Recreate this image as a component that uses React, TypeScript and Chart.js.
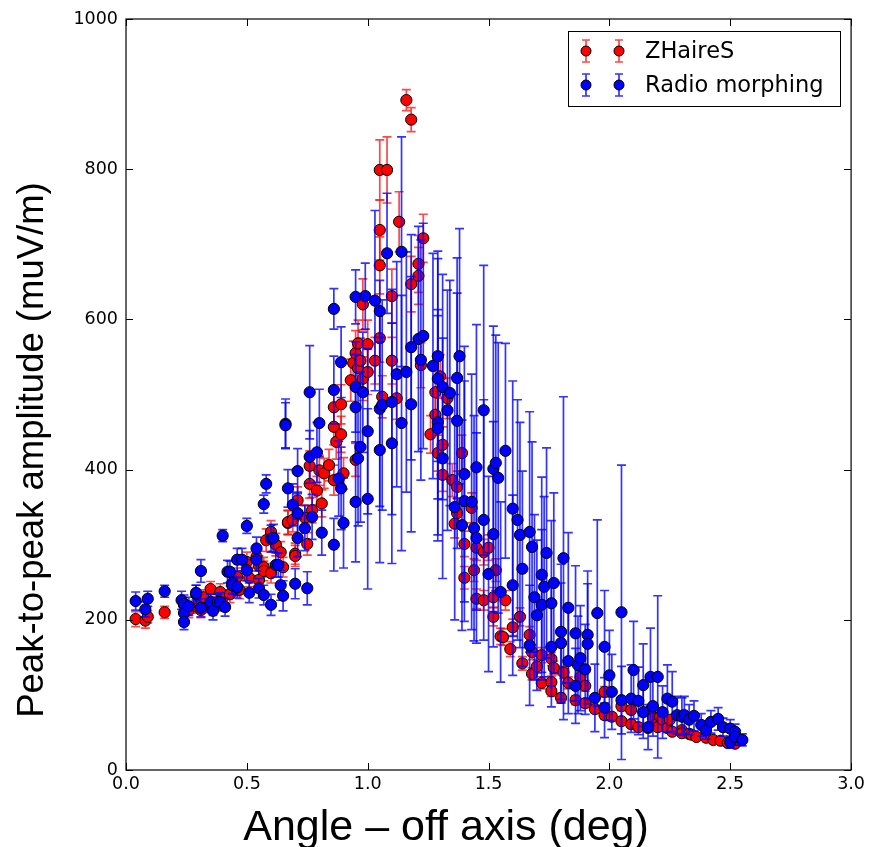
import React, { useEffect, useRef } from "react";
import { Chart, registerables } from "chart.js";

Chart.register(...registerables);

// ZHaireS (red): angle, amplitude, error
const zhX = [
  0.04, 0.08, 0.09, 0.16, 0.24, 0.26, 0.29, 0.31, 0.32, 0.35,
  0.36, 0.39, 0.40, 0.43, 0.44, 0.46, 0.47, 0.50, 0.51, 0.54,
  0.55, 0.55, 0.57, 0.57, 0.58, 0.60, 0.60, 0.62, 0.64, 0.65,
  0.67, 0.67, 0.69, 0.70, 0.70, 0.71, 0.74, 0.75, 0.76, 0.76,
  0.77, 0.79, 0.80, 0.81, 0.82, 0.84, 0.86, 0.86, 0.86, 0.87,
  0.89, 0.89, 0.90, 0.93, 0.94, 0.95, 0.95, 0.96, 0.96, 0.97,
  0.98, 0.98, 1.00, 1.00, 1.03, 1.05, 1.05, 1.05, 1.05, 1.06,
  1.08, 1.10, 1.10, 1.12, 1.13, 1.16, 1.18, 1.18, 1.21, 1.21,
  1.22, 1.23, 1.26, 1.28, 1.28, 1.29, 1.30, 1.31, 1.31, 1.33,
  1.35, 1.36, 1.37, 1.37, 1.39, 1.40, 1.40, 1.43, 1.44, 1.45,
  1.45, 1.48, 1.48, 1.50, 1.52, 1.52, 1.53, 1.55, 1.56, 1.57,
  1.59, 1.60, 1.63, 1.64, 1.67, 1.68, 1.68, 1.70, 1.72, 1.72,
  1.76, 1.77, 1.76, 1.76, 1.80, 1.81, 1.83, 1.86, 1.88, 1.90,
  1.90, 1.94, 1.98, 1.98, 2.01, 2.05, 2.05, 2.09, 2.09, 2.12,
  2.16, 2.17, 2.18, 2.19, 2.20, 2.21, 2.22, 2.24, 2.25, 2.26,
  2.30, 2.30, 2.33, 2.34, 2.36, 2.40, 2.43, 2.46, 2.49, 2.52,
  2.53,
];
const zhY = [
  201, 199, 204, 210, 220, 213, 218, 213, 230, 241,
  216, 237, 229, 234, 246, 257, 240, 277, 256, 284,
  253, 272, 270, 265, 306, 317, 262, 300, 290, 270,
  329, 330, 333, 288, 285, 359, 336, 301, 405, 381,
  346, 372, 399, 355, 395, 406, 483, 457, 386, 437,
  487, 447, 395, 519, 542, 555, 413, 568, 535, 545,
  521, 620, 567, 530, 545, 575, 672, 719, 799, 497,
  799, 631, 545, 495, 730, 892, 866, 647, 658, 674,
  539, 708, 447, 503, 473, 422, 524, 433, 393, 495,
  386, 328, 342, 377, 422, 301, 256, 349, 266, 296,
  228, 290, 226, 296, 230, 204, 266, 178, 177, 226,
  161, 190, 204, 142, 180, 157, 128, 138, 153, 116,
  148, 136, 117, 105, 96, 130, 116, 93, 124, 112,
  89, 81, 104, 73, 71, 65, 85, 61, 80, 57,
  56, 80, 69, 60, 57, 71, 67, 56, 67, 51,
  53, 49, 48, 47, 44, 43, 40, 39, 36, 35,
  40,
];
const zhErr = [
  10, 10, 8, 8, 10, 10, 9, 10, 10, 10,
  10, 11, 11, 11, 12, 12, 12, 13, 12, 14,
  12, 13, 13, 13, 15, 15, 13, 15, 14, 13,
  16, 16, 16, 14, 14, 18, 17, 15, 20, 19,
  17, 19, 20, 18, 20, 21, 25, 24, 20, 23,
  26, 24, 21, 28, 29, 30, 22, 31, 29, 30,
  29, 34, 32, 30, 31, 32, 38, 40, 40, 28,
  44, 36, 31, 28, 40, 14, 16, 37, 38, 38,
  30, 32, 25, 28, 26, 24, 29, 24, 22, 27,
  22, 19, 19, 21, 24, 17, 15, 20, 15, 17,
  13, 17, 13, 17, 13, 12, 15, 11, 11, 13,
  10, 11, 12, 9, 11, 10, 8, 9, 10, 8,
  9, 9, 8, 7, 6, 8, 8, 6, 8, 7,
  6, 5, 7, 5, 5, 4, 6, 4, 5, 4,
  4, 5, 5, 4, 4, 5, 4, 4, 4, 3,
  3, 3, 3, 3, 3, 3, 3, 3, 3, 3,
  3,
];

// Radio morphing (blue): angle, amplitude, error
const rmX = [
  0.04, 0.08, 0.09, 0.16, 0.23, 0.24, 0.24, 0.24, 0.26, 0.29,
  0.29, 0.31, 0.31, 0.35, 0.35, 0.36, 0.38, 0.39, 0.40, 0.41,
  0.42, 0.43, 0.44, 0.44, 0.46, 0.46, 0.46, 0.48, 0.50, 0.50,
  0.51, 0.54, 0.54, 0.55, 0.57, 0.57, 0.58, 0.60, 0.60, 0.61,
  0.62, 0.63, 0.64, 0.65, 0.66, 0.66, 0.67, 0.69, 0.70, 0.71,
  0.71, 0.71, 0.74, 0.75, 0.76, 0.76, 0.77, 0.79, 0.80, 0.81,
  0.86, 0.86, 0.86, 0.88, 0.89, 0.89, 0.90, 0.95, 0.95, 0.95,
  0.95, 0.96, 0.97, 0.98, 0.99, 1.00, 1.00, 1.03, 1.05, 1.05,
  1.05, 1.06, 1.08, 1.10, 1.10, 1.12, 1.14, 1.14, 1.16, 1.18,
  1.18, 1.21, 1.22, 1.23, 1.27, 1.29, 1.29, 1.29, 1.29, 1.31,
  1.31, 1.33, 1.34, 1.36, 1.37, 1.37, 1.38, 1.39, 1.40, 1.40,
  1.43, 1.44, 1.45, 1.45, 1.48, 1.48, 1.50, 1.52, 1.52, 1.53,
  1.54, 1.55, 1.57, 1.60, 1.60, 1.62, 1.63, 1.64, 1.67, 1.67,
  1.68, 1.69, 1.70, 1.72, 1.72, 1.73, 1.74, 1.76, 1.76, 1.77,
  1.80, 1.80, 1.81, 1.83, 1.83, 1.86, 1.86, 1.87, 1.88, 1.90,
  1.91, 1.91, 1.94, 1.95, 1.98, 1.98, 2.00, 2.01, 2.05, 2.05,
  2.09, 2.10, 2.12, 2.14, 2.14, 2.16, 2.17, 2.18, 2.20, 2.22,
  2.24, 2.26, 2.28, 2.30, 2.31, 2.33, 2.35, 2.38, 2.40, 2.42,
  2.45, 2.47, 2.50, 2.50, 2.52, 2.52, 2.55,
];
const rmY = [
  225, 214, 228, 238, 226, 221, 209, 197, 218, 234,
  236, 216, 265, 222, 224, 212, 224, 224, 312, 217,
  264, 264, 249, 246, 280, 243, 244, 280, 266, 325,
  236, 295, 280, 242, 233, 354, 381, 220, 308, 309,
  273, 273, 246, 232, 461, 459, 375, 353, 248, 342,
  398, 309, 322, 242, 417, 503, 337, 423, 462, 316,
  300, 614, 506, 388, 543, 375, 329, 357, 630, 510,
  483, 415, 430, 503, 631, 451, 361, 625, 611, 481,
  426, 486, 688, 490, 435, 527, 690, 462, 530, 563,
  487, 574, 546, 578, 538, 551, 521, 463, 455, 510,
  415, 479, 502, 350, 522, 465, 551, 326, 394, 358,
  357, 322, 403, 309, 479, 333, 261, 401, 314, 409,
  389, 237, 425, 348, 246, 333, 313, 268, 317, 166,
  297, 230, 206, 260, 220, 244, 289, 222, 164, 249,
  184, 169, 282, 216, 145, 182, 112, 140, 149, 134,
  180, 168, 96, 209, 164, 83, 126, 104, 210, 93,
  95, 133, 92, 113, 77, 57, 124, 85, 124, 77,
  95, 91, 73, 71, 73, 67, 72, 60, 53, 64,
  68, 57, 55, 37, 51, 44, 40,
];
const rmErr = [
  12, 10, 10, 8, 12, 12, 12, 10, 12, 12,
  10, 12, 15, 12, 10, 12, 10, 12, 8, 12,
  15, 14, 14, 12, 15, 14, 12, 15, 14, 10,
  13, 15, 15, 13, 13, 12, 12, 14, 18, 18,
  16, 16, 20, 20, 33, 30, 25, 28, 20, 28,
  30, 25, 30, 22, 35, 62, 30, 40, 45, 30,
  35, 27, 45, 50, 47, 55, 60, 80, 36, 60,
  70, 90, 100, 80, 44, 110, 120, 120, 41, 130,
  150, 140, 80, 150, 160, 150, 153, 170, 160, 150,
  170, 150, 160, 150, 150, 140, 160, 150, 150, 150,
  160, 160, 150, 150, 160, 170, 170, 140, 170, 160,
  170, 150, 190, 140, 193, 160, 130, 190, 150, 170,
  180, 120, 143, 170, 120, 160, 150, 130, 160, 80,
  140, 110, 100, 130, 100, 120, 140, 110, 80, 120,
  90, 80, 215, 100, 70, 90, 50, 65, 70, 60,
  85, 80, 45, 124, 75, 40, 60, 50, 196, 45,
  45, 65, 45, 55, 35, 30, 65, 40, 108, 35,
  45, 40, 25, 25, 25, 20, 20, 15, 12, 15,
  15, 12, 12, 8, 10, 10, 8,
];

const X_TICKS = [0, 0.5, 1.0, 1.5, 2.0, 2.5, 3.0];
const Y_TICKS = [0, 200, 400, 600, 800, 1000];
const SERIES_NAMES = ["ZHaireS", "Radio morphing"];
const X_TITLE = "Angle \u2013 off axis (deg)";
const Y_TITLE = "Peak-to-peak amplitude (muV/m)";

const W = 869;
const H = 847;
const FILL = ["#ff0000", "#0000ff"];
const BAR = ["rgba(255,0,0,0.72)", "rgba(0,0,255,0.8)"];
const TICK_FONT = { family: "DejaVu Sans", size: 17.5 };
const R = 5.6;

function drawErrMarker(ctx: CanvasRenderingContext2D, x: number, y: number, half: number, bar: string, fill: string) {
  ctx.save();
  ctx.strokeStyle = bar;
  ctx.lineWidth = 1.7;
  ctx.beginPath();
  ctx.moveTo(x, y - half); ctx.lineTo(x, y + half);
  ctx.moveTo(x - 4, y - half); ctx.lineTo(x + 4, y - half);
  ctx.moveTo(x - 4, y + half); ctx.lineTo(x + 4, y + half);
  ctx.stroke();
  ctx.beginPath();
  ctx.arc(x, y, 5, 0, Math.PI * 2);
  ctx.fillStyle = fill;
  ctx.fill();
  ctx.lineWidth = 1;
  ctx.strokeStyle = "#000";
  ctx.stroke();
  ctx.restore();
}

export default function App() {
  const ref = useRef<HTMLCanvasElement | null>(null);

  useEffect(() => {
    const canvas = ref.current;
    if (!canvas) return;
    const errs = [zhErr, rmErr];

    const errorBars = {
      id: "errorBars",
      beforeDatasetDraw(chart: any, args: any) {
        const { ctx } = chart;
        const yScale = chart.scales.y;
        const idx = args.index;
        const ds = chart.data.datasets[idx];
        const e = errs[idx];
        ctx.save();
        ctx.strokeStyle = BAR[idx];
        ctx.lineWidth = 1.7;
        args.meta.data.forEach((pt: any, i: number) => {
          const v = ds.data[i].y;
          const px = pt.x;
          const yt = yScale.getPixelForValue(v + e[i]);
          const yb = yScale.getPixelForValue(v - e[i]);
          ctx.beginPath();
          ctx.moveTo(px, yt); ctx.lineTo(px, yb);
          ctx.moveTo(px - 4.5, yt); ctx.lineTo(px + 4.5, yt);
          ctx.moveTo(px - 4.5, yb); ctx.lineTo(px + 4.5, yb);
          ctx.stroke();
        });
        ctx.restore();
      },
    };

    const frame = {
      id: "frame",
      afterDatasetsDraw(chart: any) {
        const { ctx, chartArea: a } = chart;
        const xs = chart.scales.x;
        const ys = chart.scales.y;
        ctx.save();
        ctx.strokeStyle = "#000";
        ctx.lineWidth = 1.2;
        ctx.strokeRect(a.left, a.top, a.right - a.left, a.bottom - a.top);
        ctx.lineWidth = 1;
        ctx.beginPath();
        X_TICKS.forEach((v) => {
          const px = Math.round(xs.getPixelForValue(v)) + 0.5;
          ctx.moveTo(px, a.bottom); ctx.lineTo(px, a.bottom - 7);
          ctx.moveTo(px, a.top); ctx.lineTo(px, a.top + 7);
        });
        Y_TICKS.forEach((v) => {
          const py = Math.round(ys.getPixelForValue(v)) + 0.5;
          ctx.moveTo(a.left, py); ctx.lineTo(a.left + 7, py);
          ctx.moveTo(a.right, py); ctx.lineTo(a.right - 7, py);
        });
        ctx.stroke();
        ctx.restore();
      },
    };

    const decor = {
      id: "decor",
      afterDraw(chart: any) {
        const { ctx } = chart;
        ctx.save();
        ctx.fillStyle = "#000";
        ctx.font = '43px "Liberation Sans", Arial, sans-serif';
        ctx.textAlign = "center";
        ctx.textBaseline = "alphabetic";
        ctx.fillText(X_TITLE, 446, 840);
        ctx.save();
        ctx.translate(43, 450);
        ctx.rotate(-Math.PI / 2);
        ctx.font = '36.5px "Liberation Sans", Arial, sans-serif';
        ctx.fillText(Y_TITLE, 0, 0);
        ctx.restore();
        ctx.fillStyle = "#fff";
        ctx.fillRect(568.5, 31.5, 272, 75);
        ctx.strokeStyle = "#000";
        ctx.lineWidth = 1;
        ctx.strokeRect(568.5, 31.5, 272, 75);
        const rows = [51, 85];
        rows.forEach((ry, k) => {
          drawErrMarker(ctx, 586, ry, 11, BAR[k], FILL[k]);
          drawErrMarker(ctx, 619, ry, 11, BAR[k], FILL[k]);
          ctx.fillStyle = "#000";
          ctx.font = '22.5px "DejaVu Sans", sans-serif';
          ctx.textAlign = "left";
          ctx.textBaseline = "middle";
          ctx.fillText(SERIES_NAMES[k], 645, ry + 1);
        });
        ctx.restore();
      },
    };

    const chart = new Chart(canvas, {
      type: "scatter",
      data: {
        datasets: [
          {
            label: SERIES_NAMES[0],
            data: zhX.map((x, i) => ({ x, y: zhY[i] })),
            backgroundColor: FILL[0],
            borderColor: "#000",
            borderWidth: 1,
            pointRadius: R,
            pointHoverRadius: R,
            order: 1,
          },
          {
            label: SERIES_NAMES[1],
            data: rmX.map((x, i) => ({ x, y: rmY[i] })),
            backgroundColor: FILL[1],
            borderColor: "#000",
            borderWidth: 1,
            pointRadius: R,
            pointHoverRadius: R,
            order: 0,
          },
        ],
      },
      options: {
        responsive: false,
        animation: false,
        events: [],
        layout: { padding: { top: 19, right: 17, left: 0, bottom: 0 } },
        plugins: { legend: { display: false }, tooltip: { enabled: false } },
        scales: {
          x: {
            type: "linear",
            min: 0,
            max: 3,
            afterBuildTicks: (s: any) => {
              s.ticks = X_TICKS.map((v) => ({ value: v }));
            },
            afterFit: (s: any) => {
              s.height = 77;
            },
            grid: { display: false, drawTicks: false, tickLength: 0 },
            border: { display: false },
            ticks: {
              font: TICK_FONT,
              color: "#000",
              padding: 4,
              maxRotation: 0,
              autoSkip: false,
              callback: (v: any) => Number(v).toFixed(1),
            },
          },
          y: {
            type: "linear",
            min: 0,
            max: 1000,
            afterBuildTicks: (s: any) => {
              s.ticks = Y_TICKS.map((v) => ({ value: v }));
            },
            afterFit: (s: any) => {
              s.width = 126;
            },
            grid: { display: false, drawTicks: false, tickLength: 0 },
            border: { display: false },
            ticks: {
              font: TICK_FONT,
              color: "#000",
              padding: 8,
              autoSkip: false,
              callback: (v: any) => String(v),
            },
          },
        },
      },
      plugins: [errorBars, frame, decor],
    } as any);

    return () => chart.destroy();
  }, []);

  return (
    <div style={{ position: "absolute", left: 0, top: 0, width: W, height: H, background: "#fff" }}>
      <canvas ref={ref} width={W} height={H} style={{ width: W, height: H, display: "block" }} />
    </div>
  );
}
